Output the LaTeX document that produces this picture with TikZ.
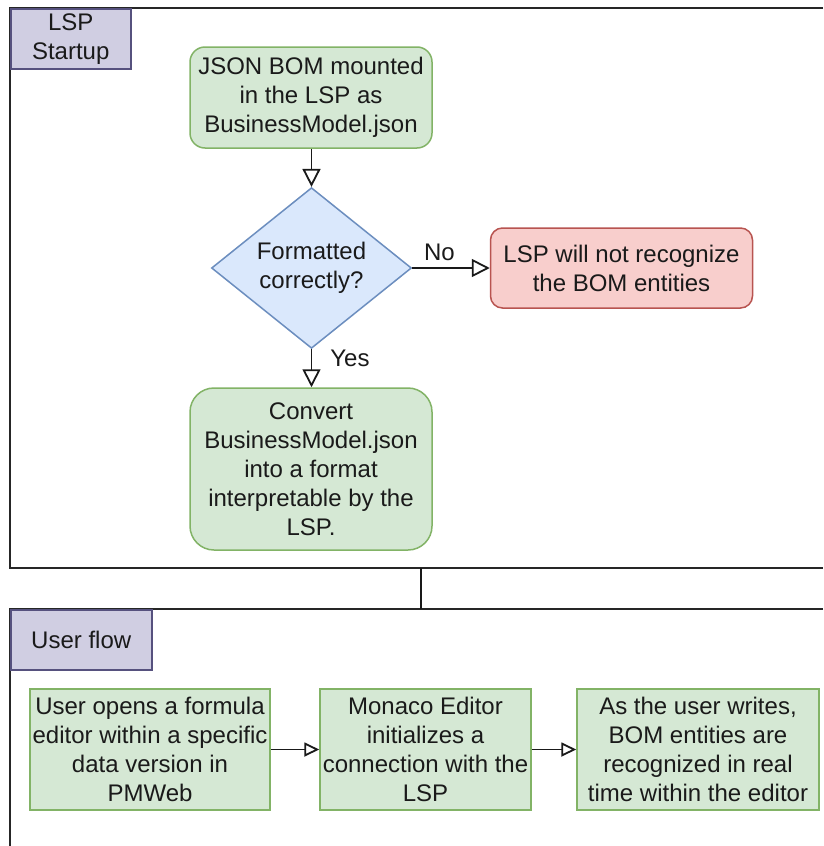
\documentclass[tikz,border=0pt]{standalone}
\usepackage{fontspec}
\setmainfont{Liberation Sans}
\usetikzlibrary{arrows.meta,shapes.geometric}
\definecolor{gfill}{HTML}{D5E8D4}
\definecolor{gline}{HTML}{82B366}
\definecolor{bfill}{HTML}{DAE8FC}
\definecolor{bline}{HTML}{6C8EBF}
\definecolor{rfill}{HTML}{F8CECC}
\definecolor{rline}{HTML}{B85450}
\definecolor{lfill}{HTML}{D0CEE2}
\definecolor{lline}{HTML}{56517E}
\definecolor{txt}{HTML}{1A1A1A}
\tikzset{
  every node/.style={font=\fontsize{24}{29}\selectfont, text=txt},
  gbox/.style={draw=gline, fill=gfill, line width=1.5pt, align=center, inner sep=0pt},
  rbox/.style={draw=rline, fill=rfill, line width=1.5pt, align=center, inner sep=0pt, rounded corners=12pt},
  dbox/.style={diamond, draw=bline, fill=bfill, line width=1.5pt, align=center, inner sep=0pt},
  lbox/.style={draw=lline, fill=lfill, line width=1.5pt, align=center, inner sep=0pt},
  cont/.style={draw=black!85, line width=2pt},
  conn/.style={draw=black!90, line width=1.8pt},
  bigarr/.style={conn, -{Triangle[open, length=18pt, width=18pt, line width=1.8pt]}},
  smallarr/.style={conn, -{Triangle[open, length=15pt, width=14pt, line width=1.8pt]}},
}
\begin{document}
\begin{tikzpicture}[x=1pt,y=-1pt]
\useasboundingbox (0,0) rectangle (823,846);
\fill[white] (0,0) rectangle (823,846);
% containers
\coordinate (c1bot) at (421,568);
\coordinate (c2top) at (421,609);
\draw[cont] (823,8) -- (10,8) -- (10,568) -- (823,568);
\draw[cont] (823,609) -- (10,609) -- (10,846);
\draw[conn] (c1bot) -- (c2top);
% labels of containers
\node[lbox, minimum width=120pt, minimum height=60pt, anchor=north west] (lsp) at (10,8) {LSP\\Startup};
\node[lbox, minimum width=141pt, minimum height=60pt, anchor=north west] (uf) at (10,609) {User flow};
% top flow
\node[gbox, rounded corners=15pt, minimum width=242pt, minimum height=101pt] (b1) at (311,97.5) {JSON BOM mounted\\in the LSP as\\BusinessModel.json};
\node[dbox, minimum width=200pt, minimum height=160pt] (d) at (311.5,268) {Formatted\\correctly?};
\node[rbox, minimum width=262pt, minimum height=80pt] (r) at (621.5,268) {LSP will not recognize\\the BOM entities};
\node[gbox, rounded corners=24pt, minimum width=242pt, minimum height=162pt] (b2) at (311,469) {Convert\\BusinessModel.json\\into a format\\interpretable by the\\LSP.};
\draw[bigarr] (b1.south -| d.north) -- (d.north);
\draw[bigarr] (d.east) -- (r.west) node[pos=0.35, above=6pt, inner sep=0pt] (no) {No};
\draw[bigarr] (d.south) -- (b2.north -| d.south) node[pos=0.25, right=18pt, inner sep=0pt] (yes) {Yes};
% bottom flow
\node[gbox, minimum width=240pt, minimum height=121pt] (ua) at (150,749.5) {User opens a formula\\editor within a specific\\data version in\\PMWeb};
\node[gbox, minimum width=211pt, minimum height=121pt] (ub) at (425.5,749.5) {Monaco Editor\\initializes a\\connection with the\\LSP};
\node[gbox, minimum width=242pt, minimum height=121pt] (uc) at (698,749.5) {As the user writes,\\BOM entities are\\recognized in real\\time within the editor};
\draw[smallarr] (ua.east) -- (ub.west);
\draw[smallarr] (ub.east) -- (uc.west);
\end{tikzpicture}
\end{document}
